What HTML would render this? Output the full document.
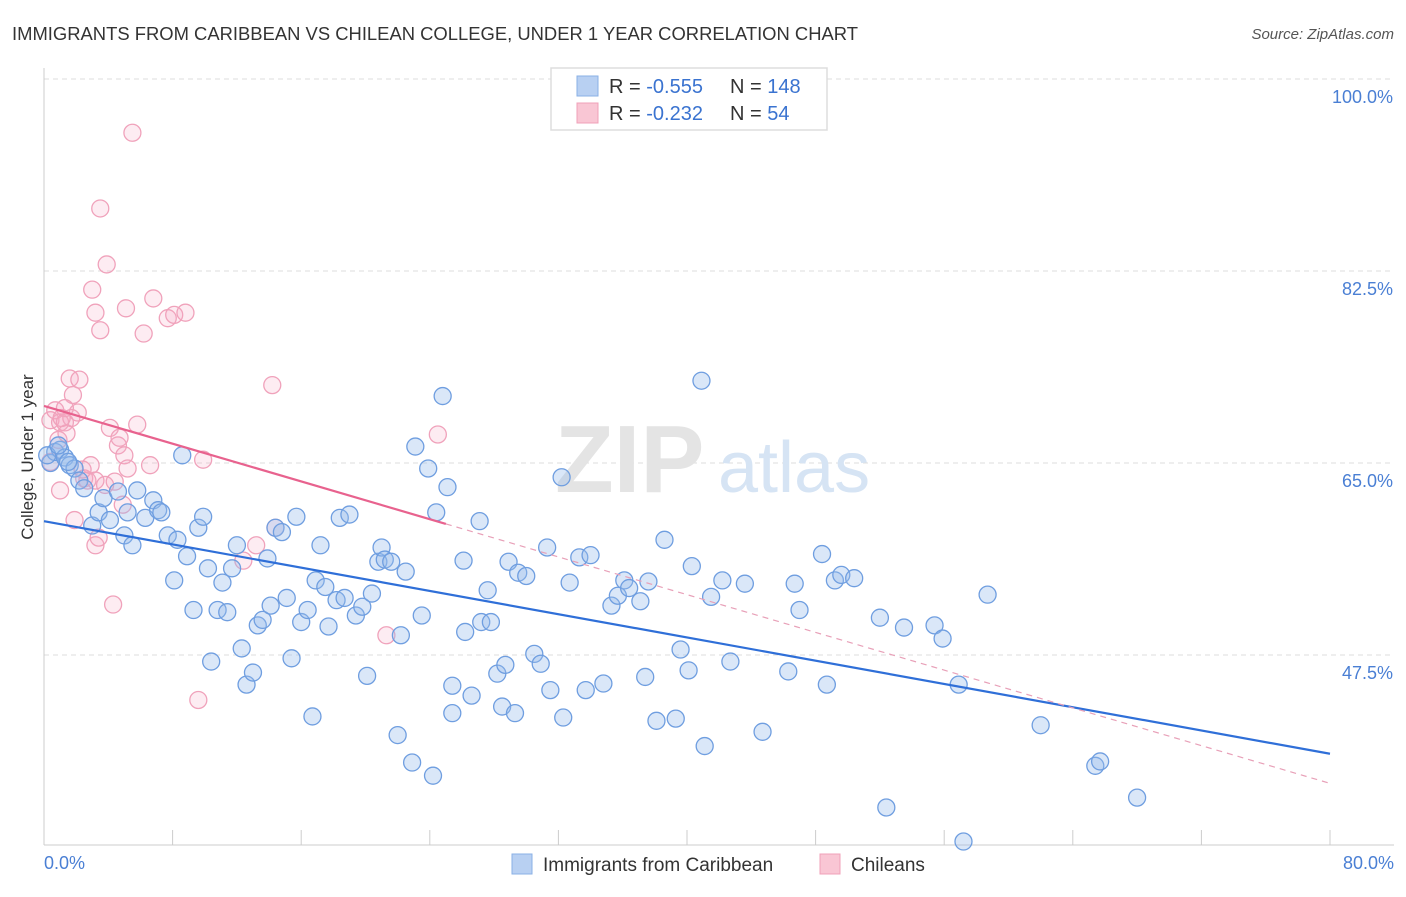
<!DOCTYPE html>
<html><head><meta charset="utf-8">
<style>
body{margin:0;background:#fff;font-family:"Liberation Sans",sans-serif;}
svg text{font-family:"Liberation Sans",sans-serif;}
</style></head>
<body>
<svg id="chart" width="1406" height="892" viewBox="0 0 1406 892">
<text x="12" y="40" font-size="18" fill="#333" textLength="846" lengthAdjust="spacingAndGlyphs">IMMIGRANTS FROM CARIBBEAN VS CHILEAN COLLEGE, UNDER 1 YEAR CORRELATION CHART</text>
<text x="1394" y="39" font-size="15" fill="#555" font-style="italic" text-anchor="end">Source: ZipAtlas.com</text>
<g id="grid"></g>
<g>
<text x="555" y="492" font-size="96" font-family="Liberation Serif" fill="#e4e4e4" font-weight="bold">ZIP</text>
<text x="718" y="492" font-size="72" fill="#d6e4f4">atlas</text>
</g>
<line x1="44" y1="68" x2="44" y2="845" stroke="#ccc"/>
<line x1="44" y1="845" x2="1394" y2="845" stroke="#ccc"/>
<g id="xticks"></g>
<g id="yticks"></g>
<text x="44" y="869" font-size="18" fill="#4a7fd4">0.0%</text>
<text x="1394" y="869" font-size="18" fill="#4a7fd4" text-anchor="end">80.0%</text>
<text transform="translate(33,457) rotate(-90)" font-size="17" fill="#333" text-anchor="middle">College, Under 1 year</text>
<g id="pink"></g>
<g id="blue"></g>
<g id="trends"></g>
<g>
<rect x="551" y="68" width="276" height="62" fill="#fff" stroke="#ddd" stroke-width="1.5"/>
<rect x="577" y="76" width="21" height="20" fill="#b8d0f2" stroke="#8ab0e6"/>
<rect x="577" y="103" width="21" height="20" fill="#f9c6d4" stroke="#f0a0b8"/>
<text x="609" y="93" font-size="20" fill="#333">R = <tspan fill="#3a73d0">-0.555</tspan></text>
<text x="730" y="93" font-size="20" fill="#333">N = <tspan fill="#3a73d0">148</tspan></text>
<text x="609" y="120" font-size="20" fill="#333">R = <tspan fill="#3a73d0"> -0.232</tspan></text>
<text x="730" y="120" font-size="20" fill="#333">N = <tspan fill="#3a73d0"> 54</tspan></text>
</g>
<g>
<rect x="512" y="854" width="20" height="20" fill="#b8d0f2" stroke="#8ab0e6"/>
<text x="543" y="871" font-size="19" fill="#333">Immigrants from Caribbean</text>
<rect x="820" y="854" width="20" height="20" fill="#f9c6d4" stroke="#f0a0b8"/>
<text x="851" y="871" font-size="19" fill="#333">Chileans</text>
</g>
</svg>
<script>
const yTicks=[100,82.5,65,47.5];
const yTickLabels=["100.0%","82.5%","65.0%","47.5%"];
const xTicks=[0,8,16,24,32,40,48,56,64,72,80];
const blueX=[0.4,0.7,1.0,1.3,1.6,1.9,2.2,2.5,3.0,3.4,3.7,4.1,4.6,5.0,5.2,5.5,5.8,6.3,6.8,7.1,7.3,7.7,8.1,8.3,8.6,8.9,9.3,9.6,9.9,10.2,10.4,10.8,11.1,11.4,11.7,12.0,12.3,12.6,13.0,13.3,13.6,13.9,14.1,14.4,14.8,15.1,15.4,15.7,16.0,16.4,16.7,16.9,17.2,17.5,17.7,18.2,18.4,18.7,19.0,19.4,19.8,20.1,20.4,20.8,21.0,21.2,21.6,22.0,22.2,22.5,22.9,23.1,23.5,23.9,24.2,24.4,24.8,25.1,25.4,25.4,26.1,26.2,26.6,27.1,27.2,27.6,27.8,28.2,28.5,28.7,28.9,29.3,29.5,30.0,30.5,30.9,31.3,31.5,32.2,32.3,32.7,33.3,33.7,34.0,34.8,35.3,35.7,36.1,36.4,37.1,37.4,37.6,38.1,38.6,39.3,39.6,40.1,40.3,40.9,41.1,41.5,42.2,42.7,43.6,44.7,46.3,46.7,47.0,48.4,48.7,49.2,49.6,50.4,52.0,52.4,53.5,55.4,55.9,56.9,57.2,58.7,62.0,65.4,65.7,68.0,1.5,0.2,0.9];
const blueY=[65.0,66.0,66.2,65.5,64.8,64.5,63.4,62.7,59.3,60.5,61.8,59.8,62.4,58.4,60.5,57.5,62.5,60.0,61.6,60.7,60.5,58.4,54.3,58.0,65.7,56.5,51.6,59.1,60.1,55.4,46.9,51.6,54.1,51.4,55.4,57.5,48.1,44.8,45.9,50.2,50.7,56.3,52.0,59.1,58.7,52.7,47.2,60.1,50.5,51.6,41.9,54.3,57.5,53.7,50.1,52.5,60.0,52.7,60.3,51.1,51.9,45.6,53.1,56.0,57.3,56.2,56.0,40.2,49.3,55.1,37.7,66.5,51.1,64.5,36.5,60.5,71.1,62.8,44.7,42.2,56.1,49.6,43.8,59.7,50.5,53.4,50.5,45.8,42.8,46.6,56.0,42.2,55.0,54.7,47.6,46.7,57.3,44.3,63.7,41.8,54.1,56.4,44.3,56.6,44.9,52.0,52.9,54.3,53.6,52.4,45.5,54.2,41.5,58.0,41.7,48.0,46.1,55.6,72.5,39.2,52.8,54.3,46.9,54.0,40.5,46.0,54.0,51.6,56.7,44.8,54.3,54.8,54.5,50.9,33.6,50.0,50.2,49.0,44.8,30.5,53.0,41.1,37.4,37.8,34.5,65.1,65.7,66.6];
const pinkX=[0.4,0.7,0.9,1.0,1.3,1.6,1.8,1.9,2.1,2.2,2.5,2.7,2.9,3.0,3.2,3.2,3.4,3.5,3.8,4.1,4.3,4.6,4.9,5.0,5.1,5.2,5.5,5.8,6.2,6.6,6.8,7.7,8.1,8.8,9.6,9.9,12.4,13.2,14.2,14.4,21.3,24.5,3.9,1.0,0.4,1.4,2.4,1.7,3.2,4.4,4.7,3.5,1.3,1.1];
const pinkY=[68.9,69.8,67.1,68.7,68.7,72.7,71.2,59.8,69.6,72.6,63.6,63.4,64.8,80.8,78.7,57.5,58.2,88.2,63.0,68.2,52.1,66.6,61.2,65.7,79.1,64.5,95.1,68.5,76.8,64.8,80.0,78.2,78.5,78.7,43.4,65.3,56.1,57.5,72.1,59.1,49.3,67.6,83.1,62.5,65.1,67.7,64.4,69.1,63.4,63.3,67.3,77.1,70.0,69.1];
const blueTrend=[[0,59.7],[80,38.5]];
const pinkTrend=[[0,70.2],[80,35.8]];
const pinkSolidEnd=25;
const NS="http://www.w3.org/2000/svg";
const X=v=>44+v/80*1286;
const Y=v=>79+(100-v)/17.5*192;
function mk(t,a,p){const e=document.createElementNS(NS,t);for(const k in a)e.setAttribute(k,a[k]);p.appendChild(e);return e;}
const grid=document.getElementById('grid'),yt=document.getElementById('yticks');
yTicks.forEach((v,i)=>{
 const l=mk('line',{x1:44,x2:1394,y1:Y(v),y2:Y(v),stroke:'#ddd','stroke-dasharray':'5,4'},grid);
 
 
 const t=mk('text',{x:1393,y:Y(v)+24,'font-size':18,fill:'#4a7fd4','text-anchor':'end'},yt);
 t.textContent=yTickLabels[i];
 
 
});
const xt=document.getElementById('xticks');
xTicks.forEach(v=>{
 const l=mk('line',{x1:X(v),x2:X(v),y1:830,y2:845,stroke:'#ccc'},xt);
 
 
});
function dots(xs,ys,g,fill,stroke,name){
 xs.forEach((x,i)=>{
  const c=mk('circle',{cx:X(x),cy:Y(ys[i]),r:8.5,fill:fill,stroke:stroke,'stroke-width':1.3},g);
  
  
 });
}
dots(pinkX,pinkY,document.getElementById('pink'),'rgba(246,170,195,0.22)','#f0a2bb','chilean-point');
dots(blueX,blueY,document.getElementById('blue'),'rgba(150,186,236,0.35)','#6f9ee0','caribbean-point');
const tr=document.getElementById('trends');
const bl=mk('line',{x1:X(blueTrend[0][0]),y1:Y(blueTrend[0][1]),x2:X(blueTrend[1][0]),y2:Y(blueTrend[1][1]),stroke:'#2f6fd8','stroke-width':2.2},tr);


const pv=x=>pinkTrend[0][1]+(pinkTrend[1][1]-pinkTrend[0][1])*(x-pinkTrend[0][0])/(pinkTrend[1][0]-pinkTrend[0][0]);
const ps=mk('line',{x1:X(0),y1:Y(pv(0)),x2:X(pinkSolidEnd),y2:Y(pv(pinkSolidEnd)),stroke:'#e8628e','stroke-width':2.2},tr);


const pd=mk('line',{x1:X(pinkSolidEnd),y1:Y(pv(pinkSolidEnd)),x2:X(80),y2:Y(pv(80)),stroke:'#e8a0b8','stroke-width':1.2,'stroke-dasharray':'6,5'},tr);


</script>
</body></html>
